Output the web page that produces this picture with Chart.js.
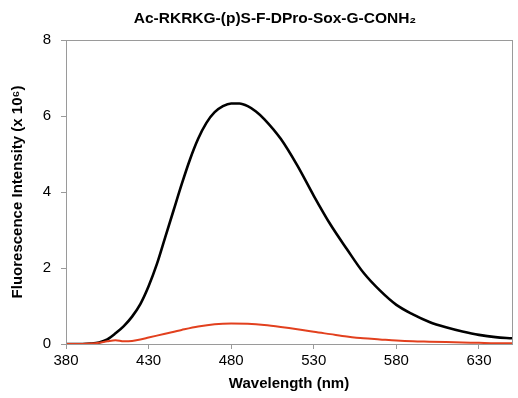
<!DOCTYPE html>
<html>
<head>
<meta charset="utf-8">
<script src="https://cdn.jsdelivr.net/npm/chart.js@4/dist/chart.umd.min.js"></script>
<style>
  html, body { margin: 0; padding: 0; background: #fff; }
  #wrap { width: 518px; height: 398px; }
</style>
</head>
<body>
<div id="wrap"><canvas id="spectrum"></canvas></div>
<script>
const titleText = "Ac-RKRKG-(p)S-F-DPro-Sox-G-CONH\u2082";

// black trace
const wlBlack = [380, 390, 395, 400, 405, 410, 415, 420, 425, 430, 435, 440, 445, 450, 455, 460, 465, 470, 475, 480, 485, 490, 495, 500, 510, 520, 530, 540, 550, 560, 570, 580, 590, 600, 610, 620, 630, 640, 650];
const valBlack = [0, 0, 0.01, 0.04, 0.12, 0.28, 0.47, 0.72, 1.05, 1.52, 2.1, 2.8, 3.5, 4.2, 4.85, 5.4, 5.82, 6.1, 6.26, 6.33, 6.33, 6.26, 6.12, 5.92, 5.4, 4.7, 3.9, 3.15, 2.5, 1.88, 1.41, 1.03, 0.78, 0.58, 0.44, 0.33, 0.24, 0.18, 0.15];

// red trace
const wlRed = [380, 390, 395, 400, 405, 410, 415, 420, 425, 430, 440, 450, 460, 470, 480, 490, 500, 510, 520, 530, 540, 550, 560, 570, 580, 590, 600, 610, 620, 630, 640, 650];
const valRed = [0, 0, 0.01, 0.03, 0.07, 0.1, 0.07, 0.08, 0.12, 0.17, 0.27, 0.37, 0.46, 0.52, 0.54, 0.53, 0.5, 0.45, 0.39, 0.32, 0.26, 0.2, 0.15, 0.12, 0.09, 0.07, 0.06, 0.05, 0.04, 0.03, 0.02, 0.02];

const xTicks = [380, 430, 480, 530, 580, 630];
const yTicks = [0, 2, 4, 6, 8];

const toPoints = (xs, ys) => xs.map((x, i) => ({ x: x, y: ys[i] }));

const family = "'Liberation Sans', Arial, sans-serif";

// light frame around the plot area, title centred over the plot
const frame = {
  id: "frame",
  afterDraw(chart) {
    const a = chart.chartArea;
    const ctx = chart.ctx;
    ctx.save();
    ctx.strokeStyle = "#9a9a9a";
    ctx.lineWidth = 1;
    ctx.strokeRect(Math.round(a.left) + 0.5, Math.round(a.top) + 0.5, Math.round(a.right - a.left), Math.round(a.bottom - a.top));
    ctx.fillStyle = "#000";
    ctx.font = "bold 15.5px " + family;
    ctx.textAlign = "center";
    ctx.textBaseline = "middle";
    ctx.fillText(titleText, (a.left + a.right) / 2 - 14, 19);
    ctx.restore();
  }
};

const font = { family: family, size: 15 };
const bold = { family: family, size: 15, weight: "bold" };

new Chart(document.getElementById("spectrum"), {
  type: "line",
  data: {
    datasets: [
      { data: toPoints(wlRed, valRed), borderColor: "#e2401e", borderWidth: 2, pointRadius: 0, cubicInterpolationMode: "monotone" },
      { data: toPoints(wlBlack, valBlack), borderColor: "#000000", borderWidth: 2.6, pointRadius: 0, cubicInterpolationMode: "monotone" }
    ]
  },
  plugins: [frame],
  options: {
    responsive: true,
    maintainAspectRatio: false,
    animation: false,
    layout: { padding: { left: 0, right: 6, top: 40, bottom: 0 } },
    plugins: {
      legend: { display: false },
      tooltip: { enabled: false },
      title: { display: false }
    },
    scales: {
      x: {
        type: "linear",
        min: 380,
        max: 650,
        afterBuildTicks: s => { s.ticks = xTicks.map(v => ({ value: v })); },
        grid: { display: true, drawOnChartArea: false, drawTicks: true, tickLength: 5, color: "#9a9a9a" },
        border: { display: true, color: "#9a9a9a" },
        ticks: { color: "#000", font: font, padding: 3, maxRotation: 0 },
        title: { display: true, text: "Wavelength (nm)", color: "#000", font: bold, padding: { top: 2, bottom: 5 } }
      },
      y: {
        min: 0,
        max: 8,
        afterBuildTicks: s => { s.ticks = yTicks.map(v => ({ value: v })); },
        afterFit: s => { s.width = 66; },
        grid: { display: true, drawOnChartArea: false, drawTicks: true, tickLength: 5, color: "#9a9a9a" },
        border: { display: true, color: "#9a9a9a" },
        ticks: { color: "#000", font: font, padding: 10 },
        title: { display: true, text: "Fluorescence Intensity (x 10\u2076)", color: "#000", font: bold, padding: { top: 9, bottom: 0 } }
      }
    }
  }
});
</script>
</body>
</html>
